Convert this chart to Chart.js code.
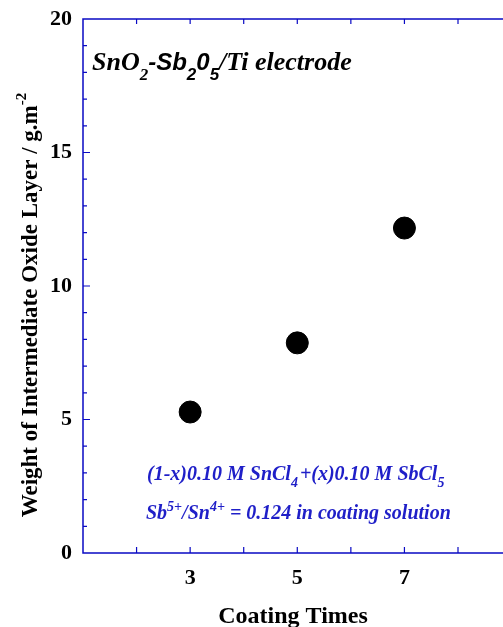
<!DOCTYPE html>
<html>
<head>
<meta charset="utf-8">
<script src="https://cdn.jsdelivr.net/npm/chart.js@4.4.0/dist/chart.umd.min.js"></script>
<style>
  html, body { margin: 0; padding: 0; background: #fff; }
  #wrap { width: 503px; height: 627px; }
</style>
</head>
<body>
<div id="wrap"><canvas id="chart"></canvas></div>
<script>
// Datos
const coatingTimes = [3, 5, 7];
const oxideWeight = [5.28, 7.87, 12.17];
const xLabels = [3, 5, 7];
const yLabels = [0, 5, 10, 15, 20];

const axisBlue = '#0a0ac4';
const textBlue = '#1f1fc8';
const serif = '"Liberation Serif", "Times New Roman", serif';
const sans = '"Liberation Sans", Arial, sans-serif';

// Dibuja un texto con partes de distinta fuente (subíndices, superíndices)
function richText(ctx, x, y, parts, color) {
    ctx.fillStyle = color;
    ctx.textAlign = 'left';
    ctx.textBaseline = 'alphabetic';
    parts.forEach(p => {
        ctx.font = p.font;
        ctx.fillText(p.t, x, y + (p.dy || 0));
        x += ctx.measureText(p.t).width + (p.gap || 0);
    });
}

// Marcas hacia adentro y textos del gráfico
const framePlugin = {
    id: 'frame',
    afterDraw(chart) {
        const { ctx, chartArea: a, scales } = chart;
        const xs = scales.x, ys = scales.y;
        ctx.save();
        ctx.strokeStyle = axisBlue;
        ctx.lineWidth = 1.5;
        ctx.beginPath();
        ctx.moveTo(a.right, a.top);
        ctx.lineTo(a.left, a.top);
        ctx.lineTo(a.left, a.bottom);
        ctx.lineTo(a.right, a.bottom);
        ctx.stroke();

        ctx.lineWidth = 1.2;
        ctx.beginPath();
        for (let v = 1; v <= 19; v++) {
            const py = ys.getPixelForValue(v);
            const len = v % 5 === 0 ? 7 : 4;
            ctx.moveTo(a.left, py);
            ctx.lineTo(a.left + len, py);
        }
        for (let v = 2; v <= 8; v++) {
            const px = xs.getPixelForValue(v);
            ctx.moveTo(px, a.top);
            ctx.lineTo(px, a.top + 5);
            ctx.moveTo(px, a.bottom);
            ctx.lineTo(px, a.bottom - 6);
        }
        ctx.stroke();

        // Título interior
        const big = 26, sub = 17;
        richText(ctx, 92, 70, [
            { t: 'SnO', font: `bold italic ${big}px ${serif}` },
            { t: '2', font: `bold italic ${sub}px ${serif}`, dy: 10 },
            { t: '-Sb', font: `bold italic ${big - 2}px ${sans}` },
            { t: '2', font: `bold italic ${sub}px ${sans}`, dy: 10 },
            { t: '0', font: `bold italic ${big - 2}px ${sans}` },
            { t: '5', font: `bold italic ${sub}px ${sans}`, dy: 10 },
            { t: '/Ti electrode', font: `bold italic ${big}px ${serif}` }
        ], '#000');

        // Notas en azul
        const f = `bold italic 20px ${serif}`, fs = `bold italic 14px ${serif}`;
        richText(ctx, 147, 480, [
            { t: '(1-x)0.10 M SnCl', font: f },
            { t: '4', font: fs, dy: 7, gap: 2 },
            { t: '+(x)0.10 M SbCl', font: f },
            { t: '5', font: fs, dy: 7 }
        ], textBlue);
        richText(ctx, 146, 519, [
            { t: 'Sb', font: f },
            { t: '5+', font: fs, dy: -8 },
            { t: '/Sn', font: f },
            { t: '4+', font: fs, dy: -8 },
            { t: ' = 0.124 in coating solution', font: f }
        ], textBlue);

        // Título del eje Y con superíndice
        ctx.translate(37, 305);
        ctx.rotate(-Math.PI / 2);
        const yf = `bold 23px ${serif}`, ys2 = `bold 15px ${serif}`;
        ctx.font = yf;
        const main = 'Weight of Intermediate Oxide Layer / g.m';
        const w = ctx.measureText(main).width;
        ctx.font = ys2;
        const w2 = ctx.measureText('-2').width;
        richText(ctx, -(w + w2) / 2, 0, [
            { t: main, font: yf },
            { t: '-2', font: ys2, dy: -11 }
        ], '#000');
        ctx.restore();
    }
};

new Chart(document.getElementById('chart'), {
    type: 'scatter',
    data: {
        datasets: [{
            label: 'Peso',
            data: coatingTimes.map((x, i) => ({ x: x, y: oxideWeight[i] })),
            backgroundColor: '#000',
            borderColor: '#000',
            pointRadius: 11,
            pointHoverRadius: 11
        }]
    },
    options: {
        responsive: true,
        maintainAspectRatio: false,
        animation: false,
        layout: { autoPadding: false, padding: { top: 19, right: 0, left: 0, bottom: 0 } },
        plugins: {
            legend: { display: false },
            tooltip: { enabled: false }
        },
        scales: {
            x: {
                type: 'linear',
                min: 1,
                max: 8.84,
                afterBuildTicks: s => { s.ticks = xLabels.map(v => ({ value: v })); },
                afterFit: s => { s.height = 74; },
                border: { display: false },
                grid: { display: false },
                ticks: {
                    color: '#000',
                    padding: 4,
                    font: { family: serif, size: 22, weight: 'bold' }
                },
                title: {
                    display: true,
                    text: 'Coating Times',
                    color: '#000',
                    padding: { top: 0, bottom: -4 },
                    font: { family: serif, size: 24, weight: 'bold' }
                }
            },
            y: {
                min: 0,
                max: 20,
                afterBuildTicks: s => { s.ticks = yLabels.map(v => ({ value: v })); },
                afterFit: s => { s.width = 83; },
                border: { display: false },
                grid: { display: false },
                ticks: {
                    color: '#000',
                    padding: 3,
                    font: { family: serif, size: 22, weight: 'bold' }
                }
            }
        }
    },
    plugins: [framePlugin]
});
</script>
</body>
</html>
